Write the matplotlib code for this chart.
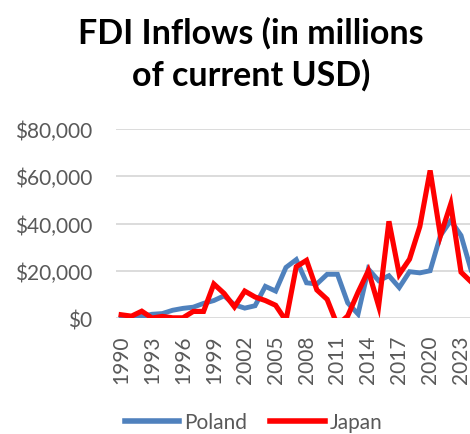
import matplotlib

matplotlib.use("Agg")
import matplotlib.pyplot as plt
from matplotlib.ticker import FuncFormatter

BLUE = "#4f81bd"
RED = "#ff0000"
GRID = "#d9d9d9"
TEXT = "#595959"

years = list(range(1990, 2025))
tick_years = list(range(1990, 2024, 3))

# FDI inflows, millions of current USD
poland = [100, 300, 800, 1700, 2000, 3400, 4200, 4700, 6300, 7500,
          9500, 5700, 4300, 5300, 13500, 11500, 21500, 24800, 15000, 14500,
          18600, 18600, 6500, 1800, 20800, 15900, 18000, 13000, 19700, 19200,
          20100, 35000, 41300, 35000, 20000]
japan = [1500, 900, 3000, 100, 800, 200, 200, 2900, 2900, 14500,
         10500, 4800, 11500, 9000, 7500, 5500, -1000, 21800, 24500, 12000,
         8000, -3000, 1000, 11000, 20100, 5200, 41000, 18600, 25000, 38800,
         62500, 34900, 48300, 19500, 15300]
y_ticks = [0, 20000, 40000, 60000, 80000]

plt.rcParams["font.family"] = ["Lato", "DejaVu Sans"]

fig = plt.figure(figsize=(4.7, 4.35), dpi=100)
# plot area runs past the right edge, as in the cropped reference
ax = fig.add_axes([0.2468, 0.266, 0.767, 0.435])

x = list(range(len(years)))
ax.plot(x, poland, color=BLUE, lw=3.5, label="Poland", solid_joinstyle="miter", zorder=3)
ax.plot(x, japan, color=RED, lw=3.7, label="Japan", solid_joinstyle="miter", zorder=4)

ax.set_xlim(-0.5, len(years) - 0.5)
ax.set_ylim(0, 80000)
ax.set_yticks(y_ticks)
ax.yaxis.set_major_formatter(FuncFormatter(lambda v, _: f"${v:,.0f}"))
ax.set_xticks([years.index(t) for t in tick_years])
ax.set_xticklabels([str(t) for t in tick_years], rotation=90)

ax.grid(axis="y", color=GRID, lw=1.3)
ax.set_axisbelow(True)
for s in ax.spines.values():
    s.set_visible(False)
ax.tick_params(axis="both", length=0, colors=TEXT, labelsize=15)
ax.tick_params(axis="y", pad=17)
ax.tick_params(axis="x", pad=12)

fig.text(0.534, 0.962, "FDI Inflows (in millions\nof current USD)",
         ha="center", va="top", fontsize=24.5, fontweight="bold",
         linespacing=1.38, color="black")

leg = fig.legend(loc="center", bbox_to_anchor=(0.54, 0.028), ncol=2,
                 frameon=False, fontsize=15, handlelength=2.6,
                 handletextpad=0.25, columnspacing=1.1)
for t in leg.get_texts():
    t.set_color(TEXT)
for h in leg.legend_handles:
    h.set_linewidth(4.0)

fig.savefig("out.png", dpi=100)
